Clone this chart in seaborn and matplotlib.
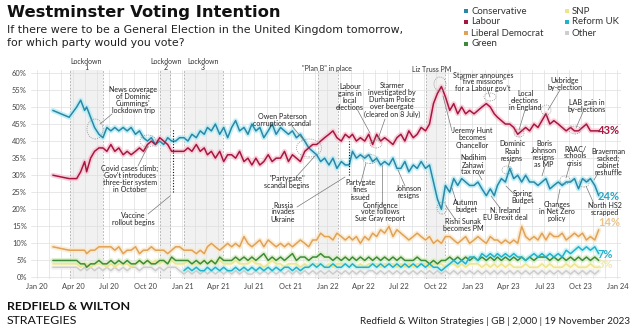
import numpy as np
import pandas as pd
import matplotlib
matplotlib.use("Agg")
import matplotlib.pyplot as plt
import matplotlib.dates as mdates
from matplotlib.lines import Line2D
from matplotlib.patches import Ellipse, Rectangle
import seaborn as sns

# ---------------- data ----------------
poll_dates = ["2020-02-10", "2020-03-22", "2020-04-10", "2020-04-20", "2020-04-30"]
for yr in range(2020, 2024):
    for mo in range(1, 13):
        if (yr == 2020 and mo < 5) or (yr == 2023 and mo > 10):
            continue
        for d in (5, 15, 25):
            poll_dates.append(f"{yr}-{mo:02d}-{d:02d}")
poll_dates += ["2023-11-05", "2023-11-15"]

conservative = [49, 47, 50, 52, 49,
    50, 47, 44, 42, 41, 44, 43, 44, 43, 44, 43, 44, 42, 43, 41, 40, 41, 39, 40, 39, 41, 40, 40, 41,
    41, 40, 42, 41, 43, 42, 44, 43, 45, 42, 44, 41, 44, 46, 43, 44, 42, 45, 43, 44, 41, 43, 45, 42,
    44, 43, 42, 43, 41, 42, 40, 38, 37, 36, 34, 35,
    33, 35, 32, 34, 33, 33, 37, 35, 36, 35, 36, 34, 35, 33, 34, 33, 35, 32, 32, 34, 31, 33, 32, 34,
    32, 33, 28, 23, 20, 27, 25, 29, 27, 29, 28, 27,
    27, 28, 26, 24, 26, 24, 27, 29, 28, 32, 29, 30, 28, 30, 28, 28, 27, 28, 29, 26, 27, 28, 27, 28,
    28, 29, 26, 29, 28, 29,
    27, 24]
labour = [30, 29, 29, 31, 34,
    31, 35, 37, 38, 38, 37, 39, 37, 38, 36, 37, 36, 37, 38, 37, 39, 40, 39, 41, 40, 39, 37, 37, 37,
    37, 38, 37, 39, 37, 38, 36, 37, 35, 37, 34, 36, 36, 35, 37, 34, 35, 33, 35, 33, 34, 36, 34, 35,
    35, 37, 34, 36, 35, 34, 37, 38, 39, 39, 40, 41,
    42, 43, 41, 40, 42, 41, 42, 40, 41, 40, 42, 39, 42, 40, 41, 40, 39, 41, 42, 40, 43, 41, 42, 44,
    43, 45, 51, 54, 56, 53, 49, 51, 48, 50, 48, 49,
    48, 49, 50, 51, 50, 48, 47, 46, 45, 45, 44, 42, 43, 44, 43, 45, 44, 46, 48, 45, 46, 45, 44, 43,
    44, 43, 43, 44, 45, 43,
    43, 43]
lib_dem = [9, 8, 8, 8, 8,
    7, 8, 8, 9, 9, 9, 9, 8, 9, 7, 8, 8, 9, 7, 8, 8, 9, 8, 8, 8, 7, 8, 9, 9,
    8, 8, 8, 7, 8, 7, 9, 10, 9, 8, 9, 10, 9, 10, 9, 12, 10, 9, 10, 11, 9, 11, 10, 9,
    10, 9, 10, 9, 10, 11, 10, 9, 11, 11, 13, 12,
    12, 11, 13, 12, 11, 12, 11, 12, 10, 12, 11, 13, 12, 14, 13, 15, 12, 14, 13, 12, 11, 12, 13, 12,
    11, 12, 10, 11, 10, 12, 12, 11, 10, 11, 12, 10,
    11, 12, 11, 10, 12, 11, 11, 10, 11, 10, 11, 10, 15, 12, 11, 12, 11, 13, 11, 13, 12, 12, 13, 11,
    12, 13, 12, 13, 11, 12,
    11, 14]
green = [5, 5, 5, 4, 4,
    3, 4, 4, 5, 4, 4, 5, 4, 5, 4, 5, 4, 4, 5, 4, 5, 4, 4, 5, 5, 4, 6, 5, 5,
    5, 5, 4, 5, 4, 5, 4, 5, 4, 6, 5, 5, 5, 6, 5, 6, 5, 6, 5, 6, 7, 5, 6, 5,
    6, 5, 6, 7, 5, 6, 6, 5, 6, 6, 7, 6,
    6, 5, 6, 5, 6, 5, 6, 5, 6, 5, 6, 5, 6, 5, 6, 5, 6, 5, 6, 5, 5, 5, 6, 5,
    5, 4, 5, 4, 5, 5, 6, 5, 6, 5, 6, 5,
    6, 5, 6, 5, 6, 5, 6, 5, 6, 5, 6, 5, 6, 5, 6, 5, 6, 6, 6, 5, 6, 5, 6, 5,
    6, 5, 6, 5, 6, 5,
    6, 5]
nan = float("nan")
reform_uk = [nan] * 29 + [
    2, 3, 2, 3, 2, 2, 3, 2, 3, 2, 3, 2, 2, 3, 2, 3, 2, 3, 2, 3, 2, 3, 2, 3,
    2, 3, 3, 2, 3, 2, 3, 3, 4, 3, 4, 3,
    3, 4, 3, 3, 4, 3, 4, 3, 3, 3, 3, 4, 3, 4, 3, 4, 3, 4, 3, 4, 3, 4, 3, 4,
    3, 4, 3, 3, 2, 3, 4, 5, 4, 5, 4, 6,
    6, 5, 7, 6, 7, 6, 7, 6, 7, 6, 7, 6, 6, 5, 6, 7, 6, 7, 6, 7, 6, 7, 6, 8,
    7, 8, 9, 8, 9, 8,
    9, 7]
snp = [4, 4, 4, 3, 4,
    4, 3, 4, 4, 4, 3, 4, 3, 4, 4, 4, 3, 4, 5, 4, 5, 4, 5, 4, 5, 4, 5, 4, 4,
    4, 5, 4, 4, 4, 5, 4, 5, 4, 5, 4, 4, 4, 5, 4, 4, 4, 5, 4, 4, 3, 4, 5, 4,
    4, 3, 4, 4, 4, 3, 4, 3, 4, 4, 4, 3,
    4, 3, 4, 4, 4, 3, 4, 3, 4, 3, 4, 4, 4, 3, 4, 4, 4, 3, 4, 3, 4, 3, 4, 4,
    4, 3, 4, 4, 4, 3, 4, 4, 3, 4, 3, 4,
    4, 4, 3, 4, 3, 4, 3, 4, 3, 4, 3, 3, 3, 4, 3, 3, 3, 4, 3, 4, 3, 3, 3, 4,
    3, 4, 3, 3, 3, 4,
    3, 3]
other = [3, 3, 3, 2, 3,
    2, 3, 2, 3, 2, 3, 2, 3, 2, 3, 2, 3, 3, 2, 3, 3, 3, 2, 3, 2, 3, 3, 3, 2,
    1, 2, 1, 2, 1, 2, 1, 2, 1, 2, 1, 2, 1, 2, 1, 2, 1, 1, 2, 1, 2, 1, 2, 1,
    2, 1, 2, 1, 2, 1, 2, 1, 2, 1, 2, 1,
    2, 1, 2, 1, 2, 1, 2, 1, 2, 1, 2, 2, 1, 2, 1, 2, 1, 2, 1, 2, 1, 2, 1, 2,
    1, 2, 1, 2, 1, 2, 1, 2, 1, 2, 1, 2,
    1, 2, 1, 2, 1, 2, 1, 2, 1, 2, 1, 2, 1, 2, 1, 2, 1, 2, 1, 2, 1, 2, 1, 2,
    1, 2, 1, 2, 1, 2,
    1, 2]

parties = ["Conservative", "Labour", "Liberal Democrat", "Green", "SNP", "Reform UK", "Other"]
end_labels = {"Labour": "43%", "Conservative": "24%", "Liberal Democrat": "14%", "Reform UK": "7%", "SNP": "3%"}
tick_labels = ["Jan 20", "Apr 20", "Jul 20", "Oct 20", "Jan 21", "Apr 21", "Jul 21", "Oct 21",
               "Jan 22", "Apr 22", "Jul 22", "Oct 22", "Jan 23", "Apr 23", "Jul 23", "Oct 23", "Jan 24"]
y_ticks = [0, 5, 10, 15, 20, 25, 30, 35, 40, 45, 50, 55, 60]

colors = {"Conservative": "#2b87a6", "Labour": "#a6173f", "Liberal Democrat": "#dfa257",
          "Green": "#3d8b3a", "SNP": "#eee48c", "Reform UK": "#22b2c8", "Other": "#cdcdcd"}
glows = {"Conservative": "#b2ecf5", "Labour": "#f8c6d5", "Liberal Democrat": "#fbe8cc",
         "Green": "#d8eec2", "SNP": "#fbf8d8", "Reform UK": "#c0f1f7", "Other": "#f0f0f0"}

df = pd.DataFrame({"date": pd.to_datetime(poll_dates), "Conservative": conservative, "Labour": labour,
                   "Liberal Democrat": lib_dem, "Green": green, "SNP": snp, "Reform UK": reform_uk,
                   "Other": other})
long = df.melt("date", var_name="party", value_name="pct").dropna()

# ---------------- style ----------------
sns.set_theme(style="white")
plt.rcParams["font.family"] = ["Lato", "DejaVu Sans"]

W, H = 634, 336
fig = plt.figure(figsize=(W / 100, H / 100), dpi=100)


def P(x, y):
    return (x / W, 1 - y / H)


ax = fig.add_axes([31 / W, 1 - 279.2 / H, (621 - 31) / W, (279.2 - 69.5) / H])
ax.set_xlim(pd.Timestamp("2019-12-17"), pd.Timestamp("2024-01-10"))
ax.set_ylim(-0.5, 61)

# shaded periods
periods = [("2020-03-23", "2020-06-15"), ("2020-11-05", "2020-12-02"), ("2021-01-06", "2021-04-12"),
           ("2021-12-08", "2022-01-27"), ("2022-09-06", "2022-10-25")]
for a, b in periods:
    ax.axvspan(pd.Timestamp(a), pd.Timestamp(b), color="#f1f1f1", zorder=0, lw=0)
    for d in (a, b):
        ax.axvline(pd.Timestamp(d), color="#aaaaaa", lw=0.6, ls=(0, (2, 2)), zorder=0.6)

# grid
ax.xaxis.set_minor_locator(mdates.MonthLocator())
ax.set_xticks([pd.Timestamp(f"{2020 + i // 4}-{[1, 4, 7, 10][i % 4]:02d}-01") for i in range(17)])
ax.set_xticklabels(tick_labels)
ax.set_yticks(y_ticks)
ax.set_yticklabels([f"{v}%" for v in y_ticks])
ax.grid(True, which="both", color="#dedede", lw=0.5)
ax.set_axisbelow(True)
for s in ax.spines.values():
    s.set_visible(False)
ax.tick_params(axis="both", which="both", length=0, labelsize=5.4, colors="#444444", pad=3)

order = ["Other", "SNP", "Green", "Reform UK", "Liberal Democrat", "Conservative", "Labour"]
sns.lineplot(data=long, x="date", y="pct", hue="party", hue_order=order, palette=glows,
             lw=3.6, alpha=0.8, legend=False, estimator=None, sort=True, ax=ax, zorder=2)
sns.lineplot(data=long, x="date", y="pct", hue="party", hue_order=order, palette=colors,
             lw=1.1, legend=False, estimator=None, sort=True, ax=ax, zorder=3)
ax.set_xlabel("")
ax.set_ylabel("")

# event dotted lines
ax.vlines(pd.Timestamp("2020-12-08"), 25, 43.5, colors="#111111", lw=0.8, ls=(0, (1, 1.5)), zorder=4)
ax.vlines(pd.Timestamp("2022-02-24"), 30, 40, colors="#111111", lw=0.8, ls=(0, (1, 1.5)), zorder=4)

# end labels
end_y = {"Labour": 131, "Conservative": 196, "Liberal Democrat": 223, "Reform UK": 254, "SNP": 264}
end_col = {"Labour": "#a6173f", "Conservative": "#2ba3bf", "Liberal Democrat": "#ecc48a",
           "Reform UK": "#22b2c8", "SNP": "#efe8b0"}
for p, t in end_labels.items():
    fig.text(*P(598, end_y[p]), t, color=end_col[p], fontsize=8, fontweight="bold",
             ha="left", va="center")

# ---------------- titles / legend / footer ----------------
fig.text(*P(7, 12), "Westminster Voting Intention", fontsize=11.8, fontweight="bold",
         family="DejaVu Sans", color="#111111", ha="left", va="center")
fig.text(*P(7, 30), "If there were to be a General Election in the United Kingdom tomorrow,",
         fontsize=7.95, family="DejaVu Sans", color="#222222", ha="left", va="center")
fig.text(*P(7, 43), "for which party would you vote?", fontsize=7.95, family="DejaVu Sans",
         color="#222222", ha="left", va="center")

leg_pos = {"Conservative": (466, 11), "Labour": (466, 22), "Liberal Democrat": (466, 33),
           "Green": (466, 44), "SNP": (567, 11), "Reform UK": (567, 22), "Other": (567, 33)}
for p, (lx, ly) in leg_pos.items():
    fig.add_artist(Rectangle(P(lx - 2, ly + 2), 4 / W, 4 / H, transform=fig.transFigure,
                             color=colors[p], lw=0))
    fig.text(*P(lx + 5, ly), p, fontsize=6.9, color="#333333", ha="left", va="center")

fig.text(*P(7, 306), "REDFIELD & WILTON", fontsize=8.9, fontweight="bold", color="#111111",
         ha="left", va="center")
fig.text(*P(7, 321), "STRATEGIES", fontsize=8.9, color="#111111", ha="left", va="center")
fig.text(*P(630, 321), "Redfield & Wilton Strategies | GB | 2,000 | 19 November 2023",
         fontsize=7.1, color="#222222", ha="right", va="center")

# period labels above plot
for t, x, y in [("Lockdown\n1", 86, 64.5), ("Lockdown\n2", 166, 64.5), ("Lockdown\n3", 203, 64.5),
                ('"Plan B" in place', 327, 69), ("Liz Truss PM", 432, 69)]:
    fig.text(*P(x, y), t, fontsize=5.0, color="#333333", ha="center", va="center", linespacing=1.0)

# annotations (text, centre x, centre y, leader line)
notes = [
    ("News coverage\nof Dominic\nCummings'\nlockdown trip", 133, 100, (112, 114, 100, 124)),
    ("Covid cases climb;\nGov't introduces\nthree-tier system\nin October", 130, 179, (138, 166, 148, 146)),
    ("Vaccine\nrollout begins", 133, 219, (148, 214, 170, 196)),
    ("Owen Paterson\ncorruption scandal", 282, 120, (292, 126, 306, 143)),
    ('"Partygate"\nscandal begins', 287, 182, (297, 176, 315, 156)),
    ("Russia\ninvades\nUkraine", 283, 212, (297, 207, 345, 177)),
    ("Labour\ngains in\nlocal\nelections", 350, 97, (357, 109, 370, 133)),
    ("Starmer\ninvestigated by\nDurham Police\nover beergate\n(cleared on 8 July)", 392, 100, (385, 119, 378, 139)),
    ("Partygate\nfines\nissued", 360, 190, (361, 182, 366, 163)),
    ("Confidence\nvote follows\nSue Gray report", 380, 212, (382, 204, 382, 165)),
    ("Johnson\nresigns", 409, 192, (405, 186, 398, 170)),
    ("Starmer announces\n\"five missions\"\nfor a Labour gov't", 483, 82, (488, 91, 490, 97)),
    ("Jeremy Hunt\nbecomes\nChancellor", 472, 138, (452, 131, 443, 96)),
    ("Local\nelections\nin England", 525, 100, (525, 110, 519, 130)),
    ("Uxbridge\nby-election", 565, 84, (560, 90, 548, 110)),
    ("LAB gain in\nby-elections", 587, 106, (583, 112, 576, 128)),
    ("Dominic\nRaab\nresigns", 512, 151, (510, 160, 508, 168)),
    ("Boris\nJohnson\nresigns\nas MP", 544, 154, (545, 166, 542, 176)),
    ("RAAC/\nschools\ncrisis", 575, 156, (570, 164, 566, 178)),
    ("Braverman\nsacked;\ncabinet\nreshuffle", 608, 162, (598, 173, 594, 180)),
    ("Nadihim\nZahawi\ntax row", 473, 165, (478, 173, 482, 180)),
    ("Spring\nBudget", 523, 197, (514, 194, 506, 186)),
    ("Autumn\nbudget", 466, 206, (456, 201, 452, 188)),
    ("N. Ireland\nEU Brexit deal", 505, 214, (500, 208, 491, 196)),
    ("Changes\nin Net Zero\npolicy", 557, 212, (557, 204, 560, 189)),
    ("North HS2\nscrapped", 605, 209, (594, 204, 586, 186)),
    ("Rishi Sunak\nbecomes PM", 463, 225, (455, 219, 446, 206)),
]
for t, x, y, (x1, y1, x2, y2) in notes:
    fig.text(*P(x, y), t, fontsize=5.1, color="#222222", ha="center", va="center",
             linespacing=1.0, zorder=6)
    fig.add_artist(Line2D([x1 / W, x2 / W], [1 - y1 / H, 1 - y2 / H], transform=fig.transFigure,
                          color="#777777", lw=0.5))

ellipses = [(95, 129, 16, 20), (148, 141, 16, 12), (309, 148, 25, 18), (370, 159, 14, 9),
            (376, 144, 12, 8), (440, 84, 12, 14), (490, 97, 12, 8), (519, 133, 10, 8),
            (546, 110, 10, 10), (575, 130, 12, 8), (442, 208, 10, 12), (507, 170, 10, 8),
            (584, 183, 10, 8), (565, 180, 10, 8)]
for cx, cy, w, h in ellipses:
    fig.add_artist(Ellipse(P(cx, cy), w / W, h / H, transform=fig.transFigure, fill=False,
                           ec="#8a8a8a", lw=0.5, ls=(0, (1.5, 1.5))))

fig.savefig("out.png", dpi=100)
